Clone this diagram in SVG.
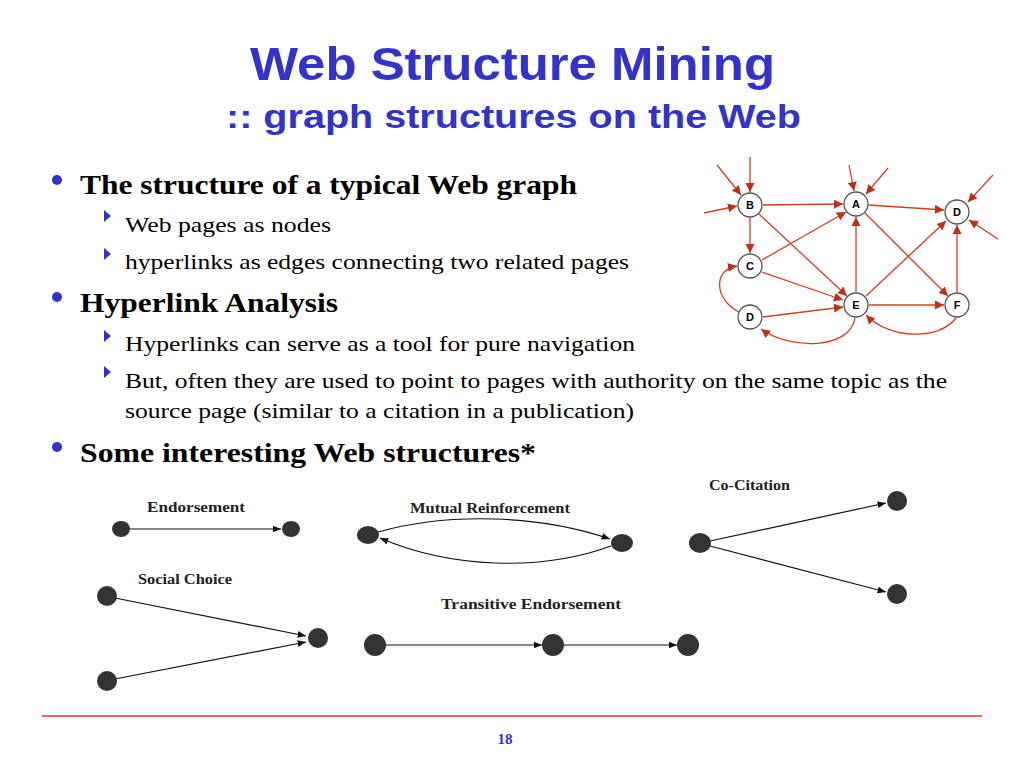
<svg xmlns="http://www.w3.org/2000/svg" width="1024" height="768" viewBox="0 0 1024 768">
<style>
.t{font-family:"Liberation Sans",Arial,sans-serif;font-weight:bold;fill:#3333cc}
.b{font-family:"Liberation Serif","Times New Roman",serif;fill:#000}
.h{font-size:28px;font-weight:bold}
.s{font-size:22px}
.bl{fill:#3333cc}
.re{stroke:#d04020;stroke-width:1.3;fill:none;marker-end:url(#ra)}
.gn{fill:#fff;stroke:#555;stroke-width:1.3}
.gl{font-family:"Liberation Sans",Arial,sans-serif;font-size:11px;font-weight:bold;text-anchor:middle}
.be{stroke:#111;stroke-width:1.2;fill:none;marker-end:url(#ba)}
.dn{fill:#333}
.lb{font-family:"Liberation Serif","Times New Roman",serif;font-size:15px;font-weight:bold;fill:#222}
</style>
<defs>
<marker id="ra" viewBox="0 0 10 10" refX="10" refY="5" markerWidth="7" markerHeight="7" orient="auto"><path d="M0,0L10,5L0,10z" fill="#c03018"/></marker>
<marker id="ba" viewBox="0 0 10 10" refX="10" refY="5" markerWidth="7" markerHeight="7" orient="auto"><path d="M0,1L10,5L0,9z" fill="#111"/></marker>
</defs>
<rect width="1024" height="768" fill="#fff"/>
<text class="t" x="250" y="80" font-size="46" textLength="525" lengthAdjust="spacingAndGlyphs">Web Structure Mining</text>
<text class="t" x="226" y="128" font-size="34" textLength="575" lengthAdjust="spacingAndGlyphs">:: graph structures on the Web</text>
<g id="text">
<circle class="bl" cx="57" cy="180" r="5"/>
<text class="b h" x="80" y="194" textLength="497" lengthAdjust="spacingAndGlyphs">The structure of a typical Web graph</text>
<path class="bl" d="M104,210l7,6l-7,6z"/>
<text class="b s" x="125" y="232" textLength="206" lengthAdjust="spacingAndGlyphs">Web pages as nodes</text>
<path class="bl" d="M104,248l7,6l-7,6z"/>
<text class="b s" x="125" y="269" textLength="504" lengthAdjust="spacingAndGlyphs">hyperlinks as edges connecting two related pages</text>
<circle class="bl" cx="57" cy="297" r="5"/>
<text class="b h" x="80" y="312" textLength="258" lengthAdjust="spacingAndGlyphs">Hyperlink Analysis</text>
<path class="bl" d="M104,330l7,6l-7,6z"/>
<text class="b s" x="125" y="351" textLength="510" lengthAdjust="spacingAndGlyphs">Hyperlinks can serve as a tool for pure navigation</text>
<path class="bl" d="M104,366l7,6l-7,6z"/>
<text class="b s" x="125" y="388" textLength="822" lengthAdjust="spacingAndGlyphs">But, often they are used to point to pages with authority on the same topic as the</text>
<text class="b s" x="125" y="418" textLength="509" lengthAdjust="spacingAndGlyphs">source page (similar to a citation in a publication)</text>
<circle class="bl" cx="57" cy="447" r="5"/>
<text class="b h" x="80" y="462" textLength="456" lengthAdjust="spacingAndGlyphs">Some interesting Web structures*</text>
</g>
<g id="graph-edges">
<path class="re" d="M750,157L750,192"/>
<path class="re" d="M717,165L741,195"/>
<path class="re" d="M704,213L737,206"/>
<path class="re" d="M849,165L854,191"/>
<path class="re" d="M888,168L866,194"/>
<path class="re" d="M993,175L968,202"/>
<path class="re" d="M998,239L969,220"/>
<path class="re" d="M763,205L843,204"/>
<path class="re" d="M750,218L750,253"/>
<path class="re" d="M759,214L847,296"/>
<path class="re" d="M762,260L846,212"/>
<path class="re" d="M762,272L843,300"/>
<path class="re" d="M869,205L944,210"/>
<path class="re" d="M865,213L948,296"/>
<path class="re" d="M856,292L856,217"/>
<path class="re" d="M866,296L946,221"/>
<path class="re" d="M869,305L944,305"/>
<path class="re" d="M957,292L957,225"/>
<path class="re" d="M763,317L843,307"/>
<path class="re" d="M739,312C715,300 712,270 737,266"/>
<path class="re" d="M855,318C850,350 790,350 761,329"/>
<path class="re" d="M956,318C940,340 890,340 866,315"/>
</g>
<g id="graph-nodes">
<g id="nB"><circle class="gn" cx="750" cy="205" r="12"/><text class="gl" x="750" y="209">B</text></g>
<g id="nA"><circle class="gn" cx="856" cy="204" r="12"/><text class="gl" x="856" y="208">A</text></g>
<g id="nD1"><circle class="gn" cx="957" cy="212" r="12"/><text class="gl" x="957" y="216">D</text></g>
<g id="nC"><circle class="gn" cx="750" cy="266" r="12"/><text class="gl" x="750" y="270">C</text></g>
<g id="nD2"><circle class="gn" cx="750" cy="317" r="12"/><text class="gl" x="750" y="321">D</text></g>
<g id="nE"><circle class="gn" cx="856" cy="305" r="12"/><text class="gl" x="856" y="309">E</text></g>
<g id="nF"><circle class="gn" cx="957" cy="305" r="12"/><text class="gl" x="957" y="309">F</text></g>
</g>
<g id="patterns-edges">
<path class="be" d="M129,529L281,529"/>
<path class="be" d="M378,532C450,512 540,515 610,539"/>
<path class="be" d="M611,546C540,572 450,568 380,538"/>
<path class="be" d="M115,598L306,636"/>
<path class="be" d="M115,679L306,642"/>
<path class="be" d="M385,645L542,645"/>
<path class="be" d="M564,645L677,645"/>
<path class="be" d="M710,541L886,503"/>
<path class="be" d="M710,546L886,592"/>
</g>
<g id="patterns-nodes">
<ellipse class="dn" cx="121" cy="529" rx="9" ry="8"/><ellipse class="dn" cx="291" cy="529" rx="9" ry="8"/>
<ellipse class="dn" cx="368" cy="535" rx="11" ry="9"/><ellipse class="dn" cx="622" cy="543" rx="11" ry="9"/>
<ellipse class="dn" cx="107" cy="596" rx="10" ry="10"/><ellipse class="dn" cx="318" cy="638" rx="10" ry="10"/><ellipse class="dn" cx="107" cy="681" rx="10" ry="10"/>
<ellipse class="dn" cx="375" cy="645" rx="11" ry="11"/><ellipse class="dn" cx="553" cy="645" rx="11" ry="11"/><ellipse class="dn" cx="688" cy="645" rx="11" ry="11"/>
<ellipse class="dn" cx="700" cy="543" rx="11" ry="10"/><ellipse class="dn" cx="897" cy="501" rx="10" ry="10"/><ellipse class="dn" cx="897" cy="594" rx="10" ry="10"/>
</g>
<g id="labels">
<text class="lb" x="147" y="512" textLength="98" lengthAdjust="spacingAndGlyphs">Endorsement</text>
<text class="lb" x="410" y="513" textLength="160" lengthAdjust="spacingAndGlyphs">Mutual Reinforcement</text>
<text class="lb" x="138" y="584" textLength="94" lengthAdjust="spacingAndGlyphs">Social Choice</text>
<text class="lb" x="441" y="609" textLength="180" lengthAdjust="spacingAndGlyphs">Transitive Endorsement</text>
<text class="lb" x="709" y="490" textLength="81" lengthAdjust="spacingAndGlyphs">Co-Citation</text>
</g>
<line x1="42" y1="716" x2="982" y2="716" stroke="#e03030" stroke-width="1.5"/>
<text x="505" y="744" font-family="Liberation Serif,serif" font-size="15" font-weight="bold" fill="#3333cc" text-anchor="middle">18</text>
</svg>
